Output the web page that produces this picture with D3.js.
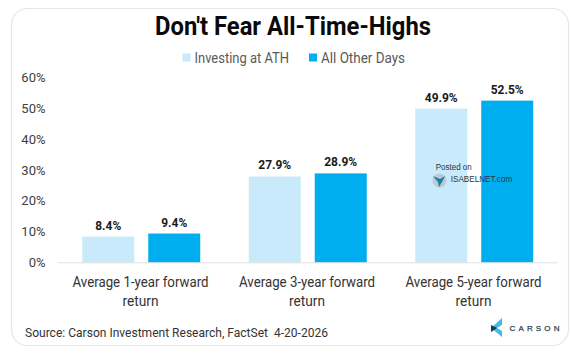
<!DOCTYPE html>
<html>
<head>
<meta charset="utf-8">
<script src="https://cdn.jsdelivr.net/npm/d3@7"></script>
<style>
    html, body { margin: 0; padding: 0; background: #fff; }
    text { font-family: "Roboto", sans-serif; }
</style>
</head>
<body>
<div id="chart"></div>
<script>
const categories = ["Average 1-year forward return", "Average 3-year forward return", "Average 5-year forward return"];
const seriesNames = ["Investing at ATH", "All Other Days"];
const athValues = [8.4, 27.9, 49.9];
const otherValues = [9.4, 28.9, 52.5];
const yTicks = [0, 10, 20, 30, 40, 50, 60];
const colors = ["#c9eafb", "#00aeef"];

const svg = d3.select("#chart").append("svg")
    .attr("width", 571)
    .attr("height", 355)
    .style("display", "block");

// squeeze text to the narrower face of the original
const fit = (sel, w) => sel.attr("textLength", w).attr("lengthAdjust", "spacingAndGlyphs");

// card behind everything
svg.append("rect")
    .attr("x", 11.5).attr("y", 8.5)
    .attr("width", 557).attr("height", 337)
    .attr("rx", 16)
    .attr("fill", "#fff")
    .attr("stroke", "#e4e7e7")
    .attr("stroke-width", 1.2);

// title
svg.append("text")
    .attr("x", 293).attr("y", 34.5)
    .attr("text-anchor", "middle")
    .attr("font-size", 25)
    .attr("font-weight", 700)
    .attr("fill", "#0a0a0a")
    .text("Don't Fear All-Time-Highs")
    .call(fit, 276);

// scales
const x = d3.scaleBand().domain(categories).range([58, 557.5]);
const inner = d3.scaleBand().domain(seriesNames).range([0, 118]).paddingInner(0.212);
const y = d3.scaleLinear().domain([0, 60]).range([262.5, 77.5]);

// y axis labels
svg.append("g").selectAll("text")
    .data(yTicks)
    .enter().append("text")
    .attr("x", 45.5)
    .attr("y", d => y(d) + 4.5)
    .attr("text-anchor", "end")
    .attr("font-size", 13)
    .attr("fill", "#404040")
    .text(d => d + "%");

// bars
const groups = svg.selectAll(".group")
    .data(categories)
    .enter().append("g")
    .attr("class", "group")
    .attr("transform", d => `translate(${x(d) + (x.bandwidth() - 118) / 2}, 0)`);

const rows = (d, i) => [
    {name: seriesNames[0], value: athValues[i]},
    {name: seriesNames[1], value: otherValues[i]}
];

groups.selectAll("rect")
    .data(rows)
    .enter().append("rect")
    .attr("x", d => inner(d.name))
    .attr("y", d => y(d.value))
    .attr("width", inner.bandwidth())
    .attr("height", d => y(0) - y(d.value))
    .attr("fill", d => colors[seriesNames.indexOf(d.name)]);

// 5 characters = 33px wide in the original, so scale by label length
groups.selectAll(".value")
    .data(rows)
    .enter().append("text")
    .attr("class", "value")
    .attr("x", d => inner(d.name) + inner.bandwidth() / 2)
    .attr("y", d => y(d.value) - 7)
    .attr("text-anchor", "middle")
    .attr("font-size", 12.5)
    .attr("font-weight", 700)
    .attr("fill", "#1a1a1a")
    .text(d => d.value.toFixed(1) + "%")
    .attr("textLength", d => d.value < 10 ? 26 : 33)
    .attr("lengthAdjust", "spacingAndGlyphs");

// baseline
svg.append("line")
    .attr("x1", 58).attr("x2", 557.5)
    .attr("y1", 262.8).attr("y2", 262.8)
    .attr("stroke", "#dcdfe0")
    .attr("stroke-width", 1);

// category labels, wrapped on two lines
const catLabels = svg.selectAll(".cat")
    .data(categories)
    .enter().append("text")
    .attr("class", "cat")
    .attr("text-anchor", "middle")
    .attr("font-size", 14)
    .attr("fill", "#333");
catLabels.append("tspan")
    .attr("x", d => x(d) + x.bandwidth() / 2 - 0.7)
    .attr("y", 287)
    .text(d => d.replace(" return", ""))
    .call(fit, 136);
catLabels.append("tspan")
    .attr("x", d => x(d) + x.bandwidth() / 2 - 0.7)
    .attr("y", 305.5)
    .text("return")
    .call(fit, 36);

// legend
const legendX = [182.5, 309];
const legendW = [94.5, 84];
seriesNames.forEach((name, i) => {
    svg.append("rect")
        .attr("x", legendX[i]).attr("y", 53.5)
        .attr("width", 8).attr("height", 8)
        .attr("fill", colors[i]);
    svg.append("text")
        .attr("x", legendX[i] + 12).attr("y", 62.5)
        .attr("font-size", 14)
        .attr("fill", "#595959")
        .text(name)
        .call(fit, legendW[i]);
});

// source
svg.append("text")
    .attr("x", 25).attr("y", 336.5)
    .attr("font-size", 13)
    .attr("fill", "#333")
    .style("white-space", "pre")
    .text("Source: Carson Investment Research, FactSet  4-20-2026")
    .call(fit, 303);

// carson logo
svg.append("path")
    .attr("d", "M502 318L491 328L502 337L502 331L497 328L502 325Z")
    .attr("fill", "#49b7e8");
svg.append("path")
    .attr("d", "M491 325L497 328L491 332Z")
    .attr("fill", "#123a52");
svg.append("text")
    .attr("x", 509.5).attr("y", 330.7)
    .style("font-family", "'Liberation Sans', sans-serif")
    .attr("font-size", 8)
    .attr("font-weight", 400)
    .attr("fill", "#2b3f50")
    .attr("stroke", "#2b3f50")
    .attr("stroke-width", 0.25)
    .text("CARSON")
    .attr("textLength", 50)
    .attr("lengthAdjust", "spacing");

// watermark
const mark = svg.append("g");
mark.append("text")
    .attr("x", 435.7).attr("y", 170)
    .style("font-family", "'Liberation Sans', sans-serif")
    .attr("font-size", 8.5)
    .attr("fill", "#2b3540")
    .text("Posted on")
    .call(fit, 36);
mark.append("circle")
    .attr("cx", 439.5).attr("cy", 180.5).attr("r", 7)
    .attr("fill", "#b9c3c8").attr("opacity", 0.8);
mark.append("path")
    .attr("d", "M433 176l7 3l5-3l-3 6l-3 5l-1-5z")
    .attr("fill", "#1b7fa6");
mark.append("text")
    .attr("x", 450.7).attr("y", 182)
    .style("font-family", "'Liberation Sans', sans-serif")
    .attr("font-size", 9)
    .attr("fill", "#2b3540")
    .text("ISABELNET.com")
    .call(fit, 61.5);
</script>
</body>
</html>
